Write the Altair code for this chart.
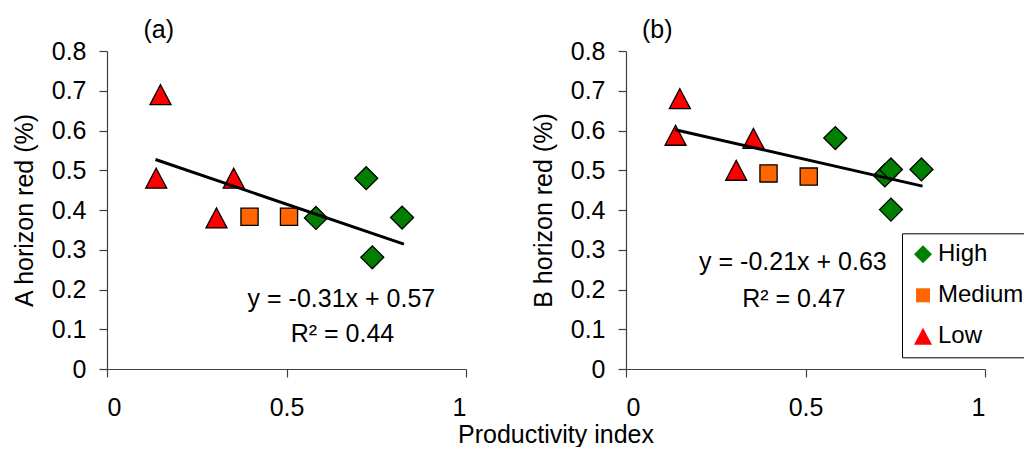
import altair as alt
import pandas as pd

# ---- data ----
classes = ["High", "Medium", "Low"]
class_colors = ["#007F00", "#FF6600", "#FF0000"]
class_shapes = [
    "M-1,0L0,-1L1,0L0,1Z",                              # diamond
    "M-0.78,-0.78L0.78,-0.78L0.78,0.78L-0.78,0.78Z",    # square
    "M0,-0.95L1,0.95L-1,0.95Z",                          # triangle
]
# marker areas, listed Low -> High (separate scale, not shown in the legend)
size_classes = ["Low", "Medium", "High"]
size_values = [441, 529, 361]

a_x = [0.149, 0.137, 0.353, 0.305, 0.397, 0.507, 0.582, 0.722, 0.822, 0.739]
a_y = [0.69, 0.48, 0.48, 0.38, 0.383, 0.383, 0.38, 0.48, 0.381, 0.281]
a_cls = ["Low", "Low", "Low", "Low", "Medium", "Medium", "High", "High", "High", "High"]

b_x = [0.150, 0.138, 0.355, 0.307, 0.397, 0.509, 0.583, 0.721, 0.738, 0.823, 0.738]
b_y = [0.68, 0.588, 0.58, 0.50, 0.492, 0.484, 0.581, 0.487, 0.502, 0.502, 0.401]
b_cls = ["Low", "Low", "Low", "Low", "Medium", "Medium", "High", "High", "High", "High", "High"]

a_trend_x = [0.135, 0.827]
a_trend_y = [0.527, 0.314]
b_trend_x = [0.137, 0.826]
b_trend_y = [0.602, 0.460]

a_ann_text = ["y = -0.31x + 0.57", "R² = 0.44"]
a_ann_x = [0.653, 0.656]
a_ann_y = [0.176, 0.087]
b_ann_text = ["y = -0.21x + 0.63", "R² = 0.47"]
b_ann_x = [0.465, 0.468]
b_ann_y = [0.268, 0.175]

y_ticks = [0, 0.1, 0.2, 0.3, 0.4, 0.5, 0.6, 0.7, 0.8]
x_ticks = [0, 0.5, 1]

FONT = "Liberation Sans"
FS = 25

LEGEND = alt.Legend(title=None, orient="none", legendX=795, legendY=182.3,
                    strokeColor="black", fillColor="white", padding=9,
                    labelFontSize=24, labelFont=FONT, labelColor="black",
                    rowPadding=17, labelOffset=3, symbolSize=324,
                    symbolStrokeColor="black", symbolStrokeWidth=1.3,
                    cornerRadius=0)


def panel(xs, ys, cls, tx, ty, ann_t, ann_x, ann_y, ytitle, ptitle, title_dx, xtitle):
    df = pd.DataFrame({"x": xs, "y": ys, "cls": cls})
    tr = pd.DataFrame({"x": tx, "y": ty})
    an = pd.DataFrame({"x": ann_x, "y": ann_y, "t": ann_t})

    xaxis_kw = dict(values=x_ticks, format="~g", title=xtitle)
    if xtitle:
        xaxis_kw.update(titleX=448.5, titleY=73, titleBaseline="alphabetic",
                        titleAlign="center", titleFontSize=FS)
    xenc = alt.X("x:Q", scale=alt.Scale(domain=[0, 1], nice=False, zero=False),
                 axis=alt.Axis(**xaxis_kw))
    yenc = alt.Y("y:Q", scale=alt.Scale(domain=[0, 0.8], nice=False),
                 axis=alt.Axis(values=y_ticks, format="~g", title=ytitle))

    pts = alt.Chart(df).mark_point(filled=True, stroke="black", strokeWidth=1.3,
                                   opacity=1).encode(
        x=xenc, y=yenc,
        fill=alt.Fill("cls:N", scale=alt.Scale(domain=classes, range=class_colors), legend=LEGEND),
        shape=alt.Shape("cls:N", scale=alt.Scale(domain=classes, range=class_shapes), legend=LEGEND),
        size=alt.Size("cls:N", scale=alt.Scale(domain=size_classes, range=size_values), legend=None),
    )
    line = alt.Chart(tr).mark_line(color="black", strokeWidth=3).encode(x=xenc, y=yenc)
    txt = alt.Chart(an).mark_text(font=FONT, fontSize=FS, align="center",
                                  baseline="middle", color="black").encode(
        x=xenc, y=yenc, text="t:N")
    return alt.layer(pts, line, txt).properties(
        width=359, height=318,
        title=alt.TitleParams(ptitle, anchor="start", frame="group", dx=title_dx,
                              offset=-4, fontSize=FS, font=FONT, fontWeight="normal",
                              color="black"),
    )


pa = panel(a_x, a_y, a_cls, a_trend_x, a_trend_y, a_ann_text, a_ann_x, a_ann_y,
           "A horizon red (%)", "(a)", 36.5, "Productivity index")
pb = panel(b_x, b_y, b_cls, b_trend_x, b_trend_y, b_ann_text, b_ann_x, b_ann_y,
           "B horizon red (%)", "(b)", 16, None)

chart = alt.hconcat(pa, pb, spacing=160, bounds="flush").properties(
    padding={"left": 12, "top": 18, "right": -10, "bottom": 0}
).configure_view(stroke=None).configure_axis(
    grid=False, domainColor="#404040", tickColor="#404040", domainWidth=1.2, tickWidth=1.2,
    tickSize=8, labelFont=FONT, labelFontSize=FS, labelColor="black",
    titleFont=FONT, titleFontSize=FS, titleFontWeight="normal", titleColor="black",
).configure_axisY(labelPadding=13, titlePadding=14).configure_axisX(labelPadding=18)

chart.save("out.html", embed_options={"renderer": "svg", "actions": False})
